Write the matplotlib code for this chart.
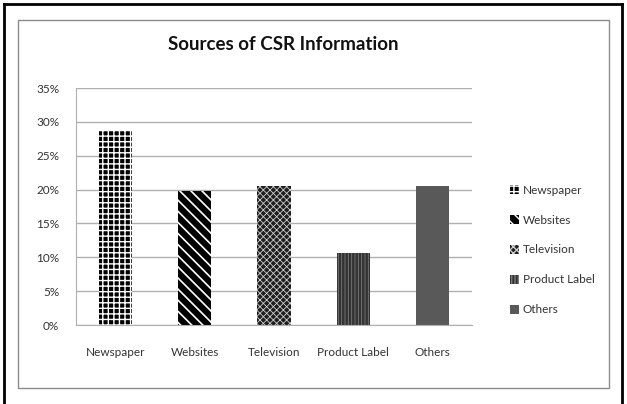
import matplotlib.pyplot as plt
import matplotlib.ticker as ticker
from matplotlib.patches import Rectangle
from matplotlib.lines import Line2D

categories = ['Newspaper', 'Websites', 'Television', 'Product Label', 'Others']
values = [28.7, 19.8, 20.5, 10.7, 20.5]
title = 'Sources of CSR Information'

W, H = 627, 404
plt.rcParams['font.family'] = ['Lato', 'DejaVu Sans']
fig = plt.figure(figsize=(W / 100, H / 100), dpi=100)

# outer black frame (left/top/right) and inner gray chart border
fig.add_artist(Line2D([4 / W, 4 / W], [0, 1 - 4 / H], color='black', lw=2, transform=fig.transFigure))
fig.add_artist(Line2D([4 / W, 622 / W], [1 - 4 / H, 1 - 4 / H], color='black', lw=2, transform=fig.transFigure))
fig.add_artist(Line2D([622 / W, 622 / W], [0, 1 - 4 / H], color='black', lw=2, transform=fig.transFigure))
fig.add_artist(Rectangle((18 / W, 1 - 388 / H), (609 - 18) / W, (388 - 20) / H,
                         fill=False, edgecolor='#8c8c8c', lw=1, transform=fig.transFigure))

ax = fig.add_axes([76 / W, 1 - 325 / H, (472 - 76) / W, (325 - 88) / H])

styles = [
    dict(facecolor='black', edgecolor='white', hatch='+++'),
    dict(facecolor='black', edgecolor='white', hatch='\\\\\\'),
    dict(facecolor='#1e1e1e', edgecolor='#cccccc', hatch='xxxxx'),
    dict(facecolor='#333333', edgecolor='#7a7a7a', hatch='|||||'),
    dict(facecolor='#595959', edgecolor='#595959', hatch=None),
]
hatch_lw = [1.0, 1.2, 0.6, 0.6, 1.0]

x = range(len(categories))
for i, (c, v) in enumerate(zip(categories, values)):
    bars = ax.bar(i, v, width=0.42, linewidth=0, label=c, **styles[i])
    for b in bars:
        if hasattr(b, 'set_hatch_linewidth'):
            b.set_hatch_linewidth(hatch_lw[i])

ax.set_xlim(-0.5, len(categories) - 0.5)
ax.set_ylim(0, 35)
ax.yaxis.set_major_locator(ticker.MultipleLocator(5))
ax.yaxis.set_major_formatter(ticker.FuncFormatter(lambda v, p: f'{v:.0f}%'))
ax.set_xticks(list(x))
ax.set_xticklabels(categories)
ax.tick_params(axis='both', length=0, labelsize=8.5, colors='#333333')
ax.tick_params(axis='x', pad=16)
ax.tick_params(axis='y', pad=12)
ax.grid(axis='y', color='#b0b0b0', lw=1)
ax.set_axisbelow(True)
for s in ['top', 'right']:
    ax.spines[s].set_visible(False)
ax.spines['left'].set_color('#b0b0b0')
ax.spines['bottom'].set_color('#b0b0b0')

fig.text(283 / W, 1 - 45 / H, title, ha='center', va='center', fontsize=13.5,
         fontweight='bold', color='#111111')

leg = ax.legend(loc='upper left', bbox_to_anchor=(505 / W, 1 - 180 / H),
                bbox_transform=fig.transFigure, frameon=False, fontsize=8.5,
                handlelength=0.8, handleheight=0.8, handletextpad=0.3,
                labelspacing=1.6, borderaxespad=0)
for t in leg.get_texts():
    t.set_color('#333333')

fig.savefig('out.png', dpi=100)
